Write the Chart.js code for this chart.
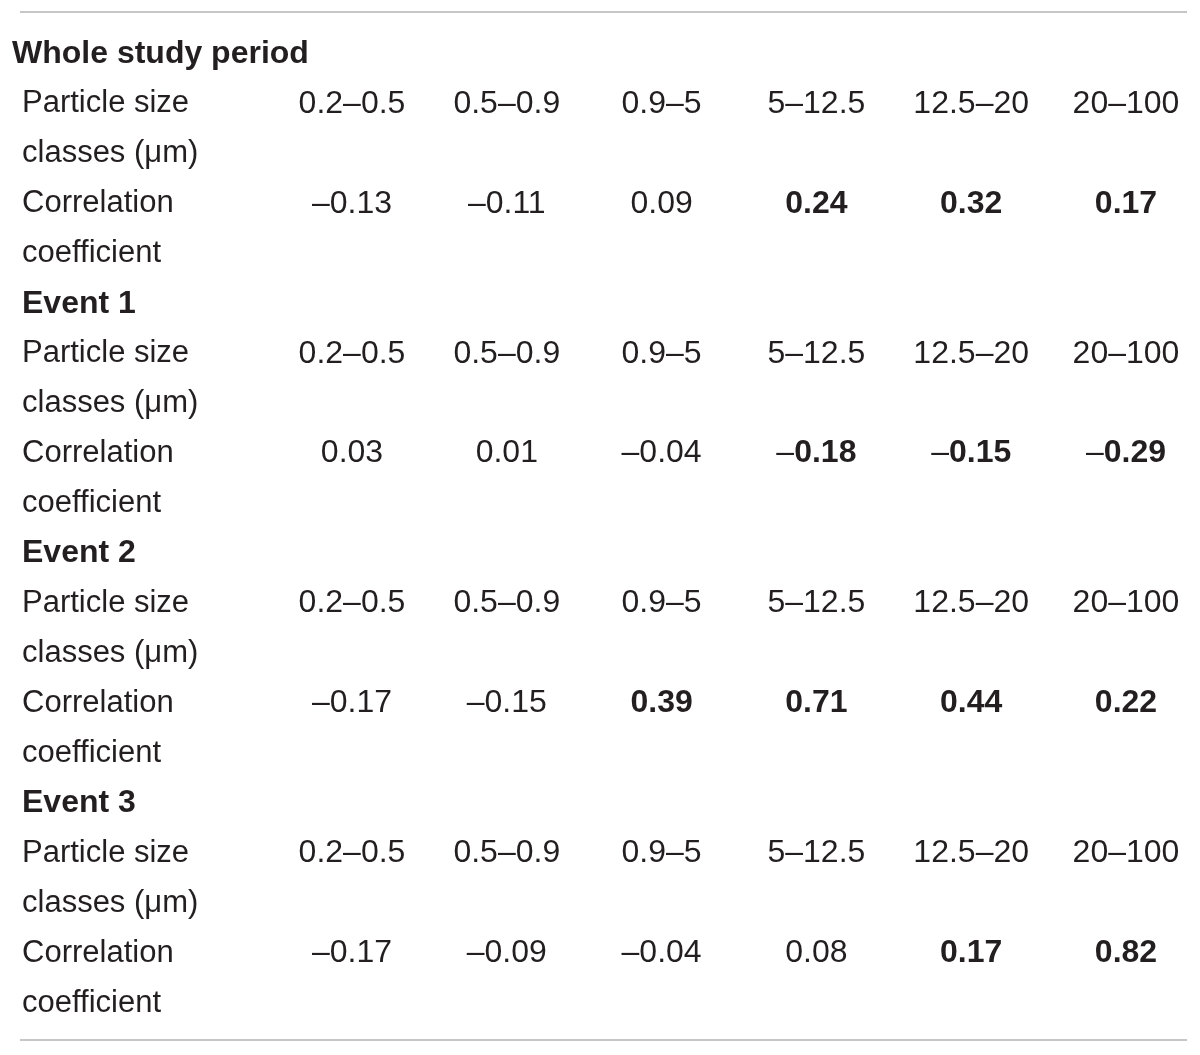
<!DOCTYPE html>
<html>
<head>
<meta charset="utf-8">
<script src="https://cdn.jsdelivr.net/npm/chart.js@4/dist/chart.umd.min.js"></script>
<style>
  body { margin: 0; background: #fff; }
  #wrap { width: 1200px; height: 1055px; }
</style>
</head>
<body>
<div id="wrap"><canvas id="chart"></canvas></div>
<script>
// table content
var sizeClasses = ['0.2–0.5', '0.5–0.9', '0.9–5', '5–12.5', '12.5–20', '20–100'];
var periods = ['Whole study period', 'Event 1', 'Event 2', 'Event 3'];
var wholeStudy = [-0.13, -0.11, 0.09, 0.24, 0.32, 0.17];
var event1 = [0.03, 0.01, -0.04, -0.18, -0.15, -0.29];
var event2 = [-0.17, -0.15, 0.39, 0.71, 0.44, 0.22];
var event3 = [-0.17, -0.09, -0.04, 0.08, 0.17, 0.82];
// bold = significant
var wholeStudySig = [false, false, false, true, true, true];
var event1Sig = [false, false, false, true, true, true];
var event2Sig = [false, false, true, true, true, true];
var event3Sig = [false, false, false, false, true, true];

var values = [wholeStudy, event1, event2, event3];
var sig = [wholeStudySig, event1Sig, event2Sig, event3Sig];
var rowParts = ['head', 'size1', 'size2', 'corr1', 'corr2'];

var rows = [];
periods.forEach(function(p){
    rowParts.forEach(function(r){ rows.push(p + '|' + r); });
});

var sizePts = [], valPts = [];
periods.forEach(function(p, i){
    sizeClasses.forEach(function(c, j){
        sizePts.push({x: c, y: p + '|size1', text: c});
        valPts.push({x: c, y: p + '|corr1', v: values[i][j], bold: sig[i][j]});
    });
});

var FONT = '"Liberation Sans", Arial, sans-serif';
var INK = '#231f20';
var LABEL = '31px ' + FONT;
var NUM = '32px ' + FONT;

function fmt(v){
    return Math.abs(v).toFixed(2);
}

var tablePlugin = {
    id: 'table',
    afterDatasetsDraw: function(chart){
        var ctx = chart.ctx, area = chart.chartArea;
        var ys = chart.scales.y;
        ctx.save();
        ctx.fillStyle = INK;
        ctx.textBaseline = 'middle';

        // rules
        ctx.strokeStyle = '#c6c6c6';
        ctx.lineWidth = 2;
        ctx.beginPath();
        ctx.moveTo(20, area.top - 17); ctx.lineTo(1187, area.top - 17);
        ctx.moveTo(20, area.bottom + 12); ctx.lineTo(1187, area.bottom + 12);
        ctx.stroke();

        // row labels
        periods.forEach(function(p, i){
            ctx.textAlign = 'left';
            ctx.font = 'bold 32px ' + FONT;
            ctx.fillText(p, i === 0 ? area.left - 340 : area.left - 330, ys.getPixelForValue(rows.indexOf(p + '|head')));
            ctx.font = LABEL;
            ctx.fillText('Particle size', area.left - 330, ys.getPixelForValue(rows.indexOf(p + '|size1')));
            ctx.fillText('classes (μm)', area.left - 330, ys.getPixelForValue(rows.indexOf(p + '|size2')));
            ctx.fillText('Correlation', area.left - 330, ys.getPixelForValue(rows.indexOf(p + '|corr1')));
            ctx.fillText('coefficient', area.left - 330, ys.getPixelForValue(rows.indexOf(p + '|corr2')));
        });

        // size class cells
        ctx.textAlign = 'center';
        ctx.font = NUM;
        chart.getDatasetMeta(0).data.forEach(function(el, k){
            ctx.fillText(sizePts[k].text, el.x, el.y);
        });

        // correlation cells: minus sign stays regular weight
        ctx.textAlign = 'left';
        chart.getDatasetMeta(1).data.forEach(function(el, k){
            var d = valPts[k];
            var minus = d.v < 0 ? '–' : '';
            var num = fmt(d.v);
            var numFont = (d.bold ? 'bold ' : '') + NUM;
            ctx.font = NUM;
            var wm = ctx.measureText(minus).width;
            ctx.font = numFont;
            var wn = ctx.measureText(num).width;
            var x0 = el.x - (wm + wn) / 2;
            ctx.font = NUM;
            ctx.fillText(minus, x0, el.y);
            ctx.font = numFont;
            ctx.fillText(num, x0 + wm, el.y);
        });
        ctx.restore();
    }
};

var ctx = document.getElementById('chart');
var chart = new Chart(ctx, {
    type: 'scatter',
    data: {
        datasets: [
            { label: 'size', data: sizePts, pointRadius: 0 },
            { label: 'corr', data: valPts, pointRadius: 0 }
        ]
    },
    options: {
        responsive: true,
        maintainAspectRatio: false,
        animation: false,
        layout: { padding: { left: 352, right: 74, top: 29, bottom: 27 } },
        plugins: { legend: { display: false }, tooltip: { enabled: false } },
        scales: {
            x: { type: 'category', labels: sizeClasses, offset: false, display: false },
            y: { type: 'category', labels: rows, offset: true, display: false }
        }
    },
    plugins: [tablePlugin]
});
</script>
</body>
</html>
